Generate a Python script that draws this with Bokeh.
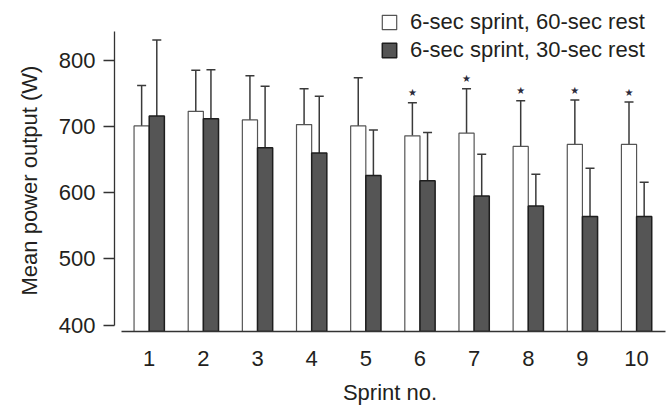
from bokeh.plotting import figure
from bokeh.models import (ColumnDataSource, Whisker, TeeHead, Legend, LegendItem,
                          FixedTicker, Range1d, Title)
from bokeh.transform import dodge
from bokeh.core.properties import value
from bokeh.embed import file_html
from bokeh.resources import INLINE

# ---- data ----
sprints = [1, 2, 3, 4, 5, 6, 7, 8, 9, 10]
mean_60 = [701, 723, 710, 703, 701, 686, 690, 670, 673, 673]
sd_60 = [61, 62, 67, 54, 73, 50, 67, 69, 67, 64]
mean_30 = [716, 712, 668, 660, 626, 618, 595, 580, 564, 564]
sd_30 = [115, 74, 93, 86, 69, 73, 63, 48, 73, 52]
significant = [False, False, False, False, False, True, True, True, True, True]
series_labels = ["6-sec sprint, 60-sec rest", "6-sec sprint, 30-sec rest"]
y_ticks = [400, 500, 600, 700, 800]
y_label = "Mean power output (W)"
x_label = "Sprint no."

FONT = "Liberation Sans"
TXT = "#231f20"
Y0 = 390.2

src = ColumnDataSource(dict(
    x=sprints,
    m60=mean_60, u60=[m + s for m, s in zip(mean_60, sd_60)],
    m30=mean_30, u30=[m + s for m, s in zip(mean_30, sd_30)],
))

p = figure(width=667, height=407, output_backend="svg", toolbar_location=None,
           x_range=Range1d(0.359, 10.534), y_range=Range1d(Y0, 890.6),
           min_border_left=114, min_border_right=2, min_border_top=0,
           min_border_bottom=74)
p.outline_line_color = None
p.grid.visible = False
p.background_fill_color = "white"

bw = 0.28
r60 = p.vbar(x=dodge("x", -bw / 2, range=p.x_range), top="m60", bottom=Y0, width=bw,
             source=src, fill_color="white", line_color="#555555", line_width=1.2)
r30 = p.vbar(x=dodge("x", bw / 2, range=p.x_range), top="m30", bottom=Y0, width=bw,
             source=src, fill_color="#555555", line_color="#1e1e1e", line_width=1.5)

for xo, base_lo, base_hi in [(-bw / 2, "m60", "u60"), (bw / 2, "m30", "u30")]:
    w = Whisker(base=dodge("x", xo, range=p.x_range), lower=base_lo, upper=base_hi,
                source=src, dimension="height", line_color="#3a3a3a", line_width=1.5,
                upper_head=TeeHead(size=9, line_color="#3a3a3a", line_width=1.5),
                lower_head=None)
    p.add_layout(w)

sig_x = [s for s, g in zip(sprints, significant) if g]
sig_y = [m + s for m, s, g in zip(mean_60, sd_60, significant) if g]
p.text(x=dodge("x", -bw / 2, range=p.x_range), y="y",
       source=ColumnDataSource(dict(x=sig_x, y=sig_y, t=["\u2605"] * len(sig_x))),
       text="t", text_align="center", text_baseline="middle", y_offset=-10,
       text_font=value("DejaVu Sans"), text_font_size="10px", text_color="#2a2a3a")

# axes
ya = p.yaxis[0]
ya.ticker = FixedTicker(ticks=y_ticks)
ya.bounds = (400, 843.8)
ya.axis_line_color = "#333333"
ya.axis_line_width = 1.3
ya.major_tick_line_color = "#333333"
ya.major_tick_line_width = 1.3
ya.major_tick_out = 11
ya.major_tick_in = 0
ya.minor_tick_line_color = None
ya.major_label_standoff = 8
ya.major_label_text_font = FONT
ya.major_label_text_font_size = "22px"
ya.major_label_text_color = TXT

ytitle = Title(text=y_label, align="left", offset=36, standoff=24,
               vertical_align="top",
               text_font=FONT, text_font_size="22px", text_font_style="normal",
               text_color=TXT)
p.add_layout(ytitle, "left")

xa = p.xaxis[0]
xa.ticker = FixedTicker(ticks=sprints)
xa.bounds = (0.483, 10.534)
xa.axis_line_color = "#333333"
xa.axis_line_width = 1.3
xa.major_tick_line_color = None
xa.minor_tick_line_color = None
xa.major_tick_out = 0
xa.major_tick_in = 0
xa.major_label_standoff = 19
xa.major_label_text_font = FONT
xa.major_label_text_font_size = "22px"
xa.major_label_text_color = TXT
xa.axis_label = x_label
xa.axis_label_text_font = FONT
xa.axis_label_text_font_size = "22px"
xa.axis_label_text_font_style = "normal"
xa.axis_label_text_color = TXT
xa.axis_label_standoff = 11

legend = Legend(items=[LegendItem(label=series_labels[0], renderers=[r60]),
                       LegendItem(label=series_labels[1], renderers=[r30])],
                location=(266, 268), orientation="vertical",
                glyph_width=18, glyph_height=18, label_height=18, spacing=2,
                label_standoff=12, padding=0, margin=0,
                border_line_color=None, background_fill_alpha=0,
                label_text_font=FONT, label_text_font_size="22px",
                label_text_color=TXT)
p.add_layout(legend)

open("out.html", "w").write(file_html(p, INLINE))
